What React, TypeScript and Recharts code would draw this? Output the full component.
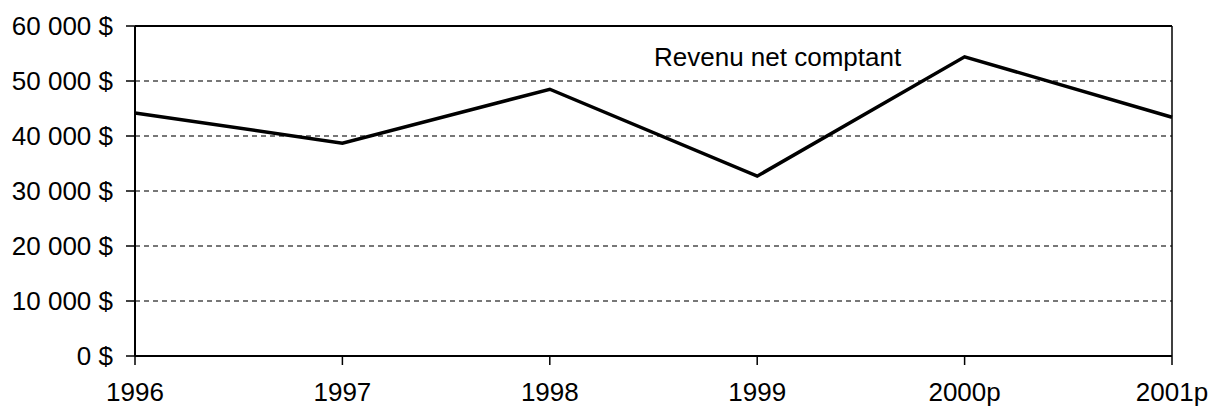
import { LineChart, Line, XAxis, YAxis, CartesianGrid, ReferenceLine } from 'recharts'

const years = ['1996', '1997', '1998', '1999', '2000p', '2001p']
const revenue = [44200, 38700, 48500, 32700, 54400, 43400]
const yTicks = [0, 10000, 20000, 30000, 40000, 50000, 60000]
const seriesName = 'Revenu net comptant'

const data = years.map((year, i) => ({ year, value: revenue[i] }))

const fmt = (v: number) => (v === 0 ? '0 $' : `${Math.floor(v / 1000)} ${String(v % 1000).padStart(3, '0')} $`)

const font = "'Liberation Sans', Arial, sans-serif"

export default function App() {
  return (
    <div style={{ position: 'absolute', left: 0, top: 0, width: 1214, height: 410, background: '#fff' }}>
      <LineChart width={1214} height={410} data={data} margin={{ top: 26, right: 42, left: 0, bottom: 0 }}>
        <CartesianGrid horizontal vertical={false} stroke="#777" strokeDasharray="5 4" strokeWidth={2} />
        <XAxis
          dataKey="year"
          height={54}
          tickSize={9}
          tickMargin={18}
          axisLine={{ stroke: '#000', strokeWidth: 2 }}
          tickLine={{ stroke: '#000', strokeWidth: 1.5 }}
          tick={{ fill: '#000', fontSize: 26, fontFamily: font }}
          interval={0}
        />
        <YAxis
          width={135}
          domain={[0, 60000]}
          ticks={yTicks}
          tickFormatter={fmt}
          tickSize={9}
          tickMargin={13}
          axisLine={{ stroke: '#000', strokeWidth: 2 }}
          tickLine={{ stroke: '#000', strokeWidth: 1.5 }}
          tick={{ fill: '#000', fontSize: 26, fontFamily: font }}
        />
        <ReferenceLine y={60000} stroke="#000" strokeWidth={2} />
        <ReferenceLine x="2001p" stroke="#000" strokeWidth={1.5} />
        <Line
          dataKey="value"
          stroke="#000"
          strokeWidth={3.5}
          dot={false}
          isAnimationActive={false}
          strokeLinejoin="miter"
        />
      </LineChart>
      <div
        style={{
          position: 'absolute',
          left: 654,
          top: 42,
          fontFamily: font,
          fontSize: 26,
          lineHeight: '30px',
          color: '#000',
          whiteSpace: 'nowrap',
        }}
      >
        {seriesName}
      </div>
    </div>
  )
}
